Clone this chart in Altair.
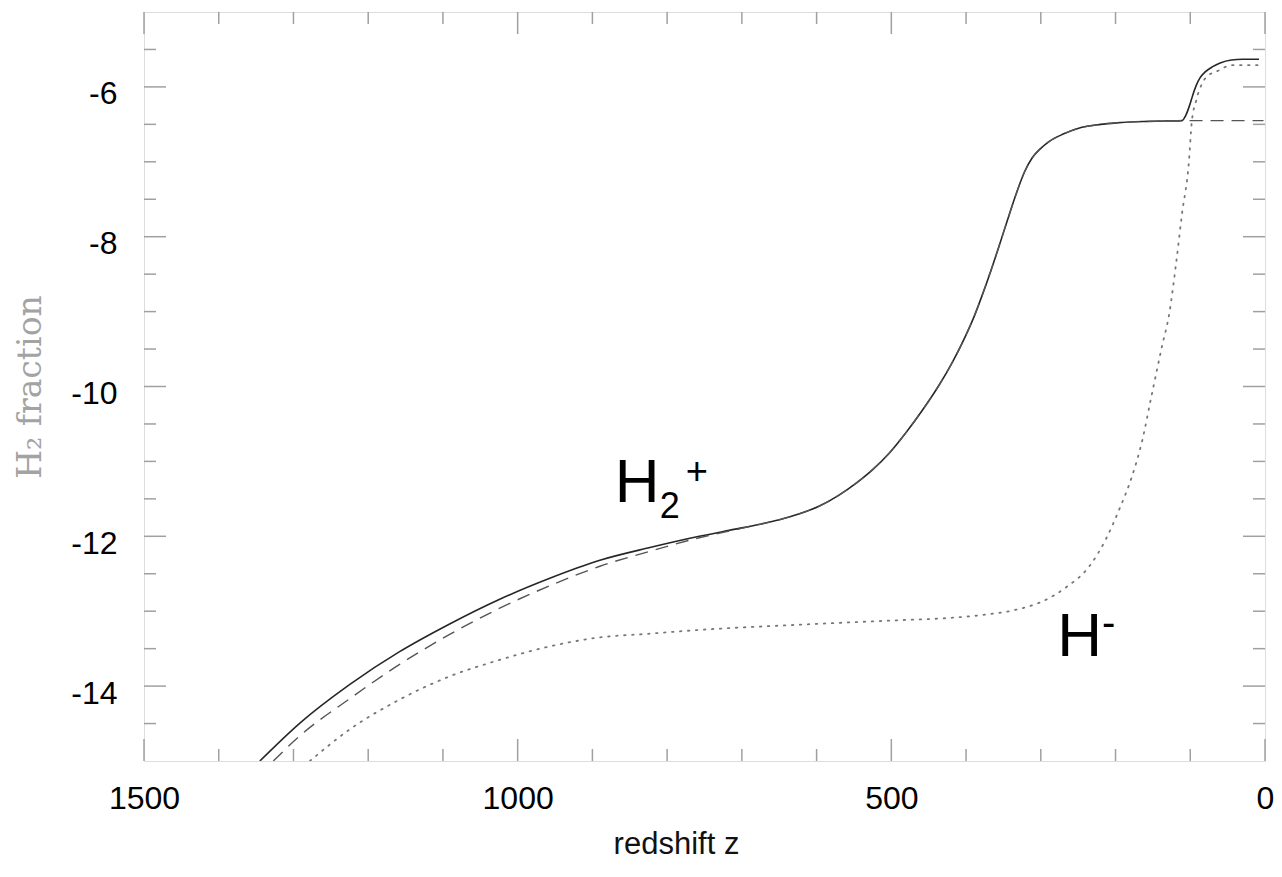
import altair as alt
import pandas as pd

# ---------------- data ----------------
shared_z = [676, 650, 623, 597, 570, 547, 525, 502, 480, 458, 436, 418, 400, 389, 378,
            367, 356, 345, 333, 322, 311, 300, 289, 270, 245, 220, 199, 155, 111]
shared_y = [-11.84, -11.78, -11.70, -11.60, -11.45, -11.29, -11.11, -10.88, -10.61,
            -10.31, -9.98, -9.67, -9.31, -9.06, -8.77, -8.46, -8.13, -7.79, -7.43, -7.14,
            -6.94, -6.82, -6.73, -6.63, -6.54, -6.50, -6.48, -6.46, -6.45]

solid_z = [1345, 1291, 1225, 1158, 1091, 1024, 957, 890, 823, 757, 717] + shared_z + \
          [106, 101, 97, 92, 87, 80, 70, 60, 45, 30, 8]
solid_y = [-15.0, -14.49, -13.98, -13.54, -13.17, -12.84, -12.56, -12.32, -12.15, -12.00,
           -11.92] + shared_y + \
          [-6.38, -6.25, -6.12, -5.98, -5.88, -5.80, -5.73, -5.68, -5.64, -5.63, -5.63]

dashed_z = [1327, 1291, 1225, 1158, 1091, 1024, 957, 890, 823, 757, 717] + shared_z + [60, 2]
dashed_y = [-15.0, -14.66, -14.17, -13.71, -13.31, -12.96, -12.66, -12.40, -12.20, -12.02,
            -11.93] + shared_y + [-6.45, -6.45]

dotted_z = [1278, 1225, 1158, 1091, 1024, 957, 890, 823, 757, 623, 489, 422, 378, 333,
            298, 266, 235, 213, 195, 178, 164, 153, 138, 128, 119, 111, 102, 98, 92, 84,
            75, 66, 44, 8]
dotted_y = [-15.0, -14.58, -14.18, -13.87, -13.65, -13.47, -13.35, -13.3, -13.25, -13.18,
            -13.12, -13.09, -13.05, -12.98, -12.87, -12.68, -12.4, -12.04, -11.64, -11.2,
            -10.71, -10.18, -9.47, -9.02, -8.36, -7.69, -7.02, -6.47, -6.18, -5.95, -5.84,
            -5.8, -5.71, -5.71]

# annotation pieces (text, z, y, font size)
ann_text = ["H", "2", "+", "H", "-"]
ann_z = [870, 810, 775, 278, 218]
ann_y = [-11.537, -11.751, -11.30, -13.60, -13.337]
ann_size = [62, 36, 38, 62, 40]

x_major = [0, 500, 1000, 1500]
x_minor = [100, 200, 300, 400, 600, 700, 800, 900, 1100, 1200, 1300, 1400]
y_major = [-14, -12, -10, -8, -6]
y_minor = [-14.5, -13.5, -13, -12.5, -11.5, -11, -10.5, -9.5, -9, -8.5, -7.5, -7,
           -6.5, -5.5]

# ---------------- chart ----------------
W, H = 1121, 749
MAJ, MIN = 22, 12
TICK_COLOR = "#a0a0a0"

xscale = alt.Scale(domain=[0, 1500], reverse=True, nice=False, zero=False)
yscale = alt.Scale(domain=[-15, -5], nice=False, zero=False)

xaxis = alt.Axis(
    values=x_major, labelExpr="datum.value + ''", title="redshift z",
    tickSize=0, domain=False, grid=False, labelFlush=False, labelOverlap=False,
    labelFont="Liberation Sans", labelFontSize=32, labelColor="black", labelPadding=22,
    titleFont="Liberation Sans", titleFontSize=31, titleFontWeight="normal",
    titleColor="#111111", titleX=532, titleY=92, titleBaseline="alphabetic",
    titleAlign="center",
)
yaxis = alt.Axis(
    values=y_major, labelExpr="datum.value + ''", title="H₂ fraction",
    tickSize=0, domain=False, grid=False, labelFlush=False, labelOverlap=False,
    labelFont="Liberation Sans", labelFontSize=32, labelColor="black", labelPadding=27,
    labelOffset=7, labelBaseline="middle",
    titleFont="DejaVu Serif", titleFontSize=33, titleFontWeight="normal",
    titleColor="#a3a3a3", titleAngle=270, titleX=-104, titleY=374.5,
    titleBaseline="alphabetic", titleAlign="center",
)

X = lambda f: alt.X(f, scale=xscale, axis=xaxis)
Y = lambda f: alt.Y(f, scale=yscale, axis=yaxis)

solid_df = pd.DataFrame({"z": solid_z, "y": solid_y})
dashed_df = pd.DataFrame({"z": dashed_z, "y": dashed_y})
dotted_df = pd.DataFrame({"z": dotted_z, "y": dotted_y})
ann_df = pd.DataFrame({"z": ann_z, "y": ann_y, "t": ann_text, "s": ann_size})

solid = alt.Chart(solid_df).mark_line(
    color="#262626", strokeWidth=1.6, interpolate="monotone", clip=True
).encode(x=X("z:Q"), y=Y("y:Q"))

dashed = alt.Chart(dashed_df).mark_line(
    color="#555555", strokeWidth=1.4, strokeDash=[13, 8], interpolate="monotone", clip=True
).encode(x=X("z:Q"), y=Y("y:Q"))

dotted = alt.Chart(dotted_df).mark_line(
    color="#777777", strokeWidth=1.8, strokeDash=[1.5, 6.5], strokeCap="round",
    interpolate="monotone", clip=True
).encode(x=X("z:Q"), y=Y("y:Q"))

ann = alt.Chart(ann_df).mark_text(
    align="left", baseline="alphabetic", font="Liberation Sans", color="black"
).encode(
    x=X("z:Q"), y=Y("y:Q"),
    text="t:N",
    size=alt.Size("s:Q", scale=None, legend=None),
)


def xticks(vals, length):
    df = pd.DataFrame({"z": vals})
    base = alt.Chart(df).mark_rule(color=TICK_COLOR, strokeWidth=1.5)
    bottom = base.encode(x=X("z:Q"), y=alt.value(H), y2=alt.value(H - length))
    top = base.encode(x=X("z:Q"), y=alt.value(0), y2=alt.value(length))
    return [bottom, top]


def yticks(vals, length):
    df = pd.DataFrame({"y": vals})
    base = alt.Chart(df).mark_rule(color=TICK_COLOR, strokeWidth=1.5)
    left = base.encode(y=Y("y:Q"), x=alt.value(0), x2=alt.value(length))
    right = base.encode(y=Y("y:Q"), x=alt.value(W), x2=alt.value(W - length))
    return [left, right]


layers = [solid, dashed, dotted, ann]
layers += xticks(x_major, MAJ) + xticks(x_minor, MIN)
layers += yticks(y_major, MAJ) + yticks(y_minor, MIN)

chart = alt.layer(*layers).properties(
    width=W, height=H,
    autosize=alt.AutoSizeParams(type="none"),
    padding={"left": 136, "top": 4, "right": 9, "bottom": 102},
).configure_view(
    stroke="#a8a8a8", strokeWidth=2.5
).configure(background="white")

chart.save("out.html", embed_options={"renderer": "svg", "actions": False})
